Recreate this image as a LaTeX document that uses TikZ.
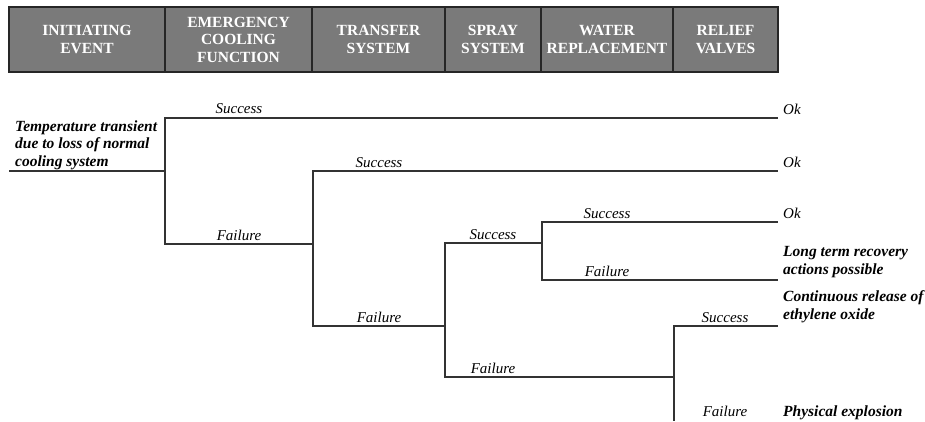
\documentclass[tikz,border=0pt]{standalone}
\usepackage{fontspec}
\setmainfont{Liberation Serif}
\usetikzlibrary{positioning}

\begin{document}
\begin{tikzpicture}[
    x=1pt, y=-1pt,
    node distance=0pt,
    header/.style={rectangle, draw=black!85, line width=1.2pt, fill=black!52, text=white, font=\fontsize{15.5}{17.5}\selectfont\bfseries, align=center, minimum height=65pt, inner sep=0pt, outer sep=0pt},
    branch/.style={font=\fontsize{15}{17}\selectfont\itshape, anchor=base, inner sep=0pt},
    outcome/.style={font=\fontsize{15}{17}\selectfont\itshape, align=left, anchor=base west, inner sep=0pt},
    event/.style={font=\fontsize{15.5}{17.5}\selectfont\bfseries\itshape, align=left, anchor=base west, inner sep=0pt},
    line/.style={draw=black!80, line width=1.1pt}
]
\useasboundingbox (0,0) rectangle (925,421);

% Column headers
\node (ie) [header, minimum width=156pt] at (87,39.5) {INITIATING\\EVENT};
\node (ecf) [header, minimum width=147pt, right=of ie] {EMERGENCY\\COOLING\\FUNCTION};
\node (ts) [header, minimum width=133pt, right=of ecf] {TRANSFER\\SYSTEM};
\node (ss) [header, minimum width=96pt, right=of ts] {SPRAY\\SYSTEM};
\node (wr) [header, minimum width=132pt, right=of ss] {WATER\\REPLACEMENT};
\node (rv) [header, minimum width=105pt, right=of wr] {RELIEF\\VALVES};

% Forks and line ends
\coordinate (start) at (9,171);
\coordinate (f1) at (165,171);
\coordinate (f2) at (313,244);
\coordinate (f3) at (445,326);
\coordinate (f4) at (542,243);
\coordinate (f5) at (674,377);
\coordinate (e1) at (778,118);
\coordinate (e2) at (778,171);
\coordinate (e3) at (778,222);
\coordinate (e4) at (778,280);
\coordinate (e5) at (778,326);
\coordinate (e6) at (674,421);

% Initiating event (base = last line)
\node (init) [event] at (15,166) {Temperature transient\\due to loss of normal\\cooling system};

% Branch labels
\node (s1) [branch] at (239,113) {Success};
\node (fl1) [branch] at (239,240) {Failure};
\node (s2) [branch] at (379,167) {Success};
\node (fl2) [branch] at (379,322) {Failure};
\node (s3) [branch] at (493,239) {Success};
\node (fl3) [branch] at (493,373) {Failure};
\node (s4) [branch] at (607,218) {Success};
\node (fl4) [branch] at (607,276) {Failure};
\node (s5) [branch] at (725,322) {Success};
\node (fl5) [branch] at (725,416) {Failure};

% Outcomes
\node (ok1) [outcome] at (783,114) {Ok};
\node (ok2) [outcome] at (783,167) {Ok};
\node (ok3) [outcome] at (783,218) {Ok};
\node (ltr) [event] at (783,274) {Long term recovery\\actions possible};
\node (cre) [event] at (783,319) {Continuous release of\\ethylene oxide};
\node (pe) [event] at (783,416) {Physical explosion};

% Tree
\draw [line] (start) -- (f1);
\draw [line] (f1) |- (e1);
\draw [line] (f1) |- (f2);
\draw [line] (f2) |- (e2);
\draw [line] (f2) |- (f3);
\draw [line] (f3) |- (f4);
\draw [line] (f4) |- (e3);
\draw [line] (f4) |- (e4);
\draw [line] (f3) |- (f5);
\draw [line] (f5) |- (e5);
\draw [line] (f5) -- (e6);

\end{tikzpicture}
\end{document}
